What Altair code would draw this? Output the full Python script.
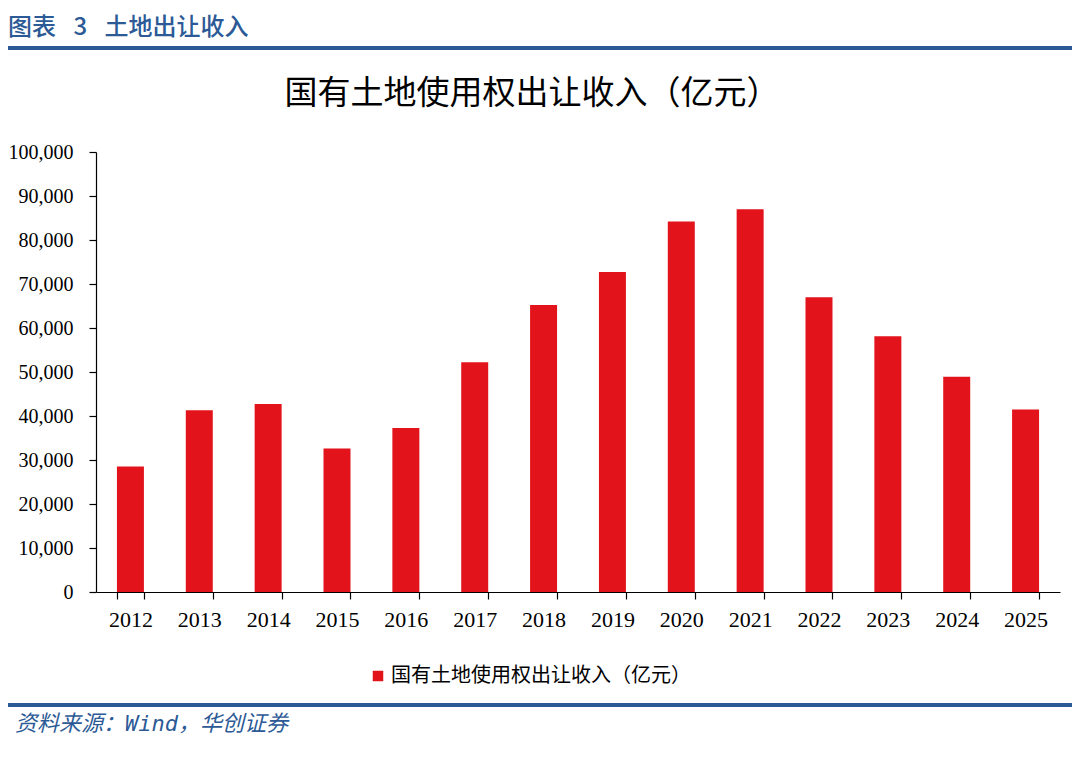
import altair as alt
import pandas as pd

# ---- data ----
years = ["2012", "2013", "2014", "2015", "2016", "2017", "2018",
         "2019", "2020", "2021", "2022", "2023", "2024", "2025"]
values = [28500, 41300, 42700, 32600, 37300, 52200, 65200,
          72700, 84200, 87000, 67000, 58100, 48900, 41500]
series_name = "国有土地使用权出让收入（亿元）"
y_ticks = [0, 10000, 20000, 30000, 40000, 50000, 60000, 70000, 80000, 90000, 100000]

header_text = "图表\u2002 3\u2002 土地出让收入"
title_text = "国有土地使用权出让收入（亿元）"
footer_text = "资料来源：Wind，华创证券"

# ---- style ----
RED = "#E3131C"
BLUE = "#2C5A96"
SERIF = "Liberation Serif"
CJK = "Noto Sans CJK SC"

W, H = 964, 440
PAD_L, PAD_T, PAD_R, PAD_B = 88, 144, 12, 157

df = pd.DataFrame({"year": years, "value": values,
                   "series": [series_name] * len(years)})

bars = alt.Chart(df).mark_bar().encode(
    x=alt.X("year:N", sort=None,
            scale=alt.Scale(paddingInner=0.608, paddingOuter=0.304),
            axis=alt.Axis(title=None, labelAngle=0, tickBand="extent",
                          labelFont=SERIF, labelFontSize=22, labelColor="#000",
                          labelPadding=10, tickSize=7, tickColor="#000",
                          domainColor="#000", tickWidth=1.2, domainWidth=1.2)),
    y=alt.Y("value:Q",
            scale=alt.Scale(domain=[0, 100000], nice=False),
            axis=alt.Axis(title=None, values=y_ticks, format=",.0f", grid=False,
                          labelFont=SERIF, labelFontSize=20, labelColor="#000",
                          labelPadding=16, tickSize=7, tickColor="#000",
                          domainColor="#000", tickWidth=1.2, domainWidth=1.2)),
    color=alt.Color("series:N",
                    scale=alt.Scale(range=[RED]),
                    legend=alt.Legend(title=None, orient="none",
                                      legendX=272, legendY=514,
                                      padding=0,
                                      symbolType="square", symbolSize=110,
                                      symbolStrokeWidth=0,
                                      labelFont=CJK, labelFontSize=20,
                                      labelLimit=0,
                                      labelColor="#000", labelOffset=3)),
)

one = pd.DataFrame({"k": [0]})

header = alt.Chart(pd.DataFrame({"t": [header_text]})).mark_text(
    align="left", baseline="middle", font=CJK, fontSize=24,
    fontWeight=500, color=BLUE
).encode(text="t:N", x=alt.value(-88), y=alt.value(-124))

header_line = alt.Chart(one).mark_rule(color=BLUE, strokeWidth=4).encode(
    x=alt.value(-PAD_L), x2=alt.value(W + PAD_R), y=alt.value(-104))

title = alt.Chart(pd.DataFrame({"t": [title_text]})).mark_text(
    align="center", baseline="middle", font=CJK, fontSize=33, color="#000"
).encode(text="t:N", x=alt.value(436), y=alt.value(-58))

footer_line = alt.Chart(one).mark_rule(color=BLUE, strokeWidth=4).encode(
    x=alt.value(-PAD_L), x2=alt.value(W + PAD_R), y=alt.value(553))

footer = alt.Chart(pd.DataFrame({"t": [footer_text]})).mark_text(
    align="left", baseline="middle", font="DejaVu Sans Mono, Noto Sans CJK SC",
    fontSize=22, fontStyle="italic", color=BLUE
).encode(text="t:N", x=alt.value(-81), y=alt.value(572))

chart = alt.layer(bars, header, header_line, title, footer_line, footer).properties(
    width=W, height=H,
    padding={"left": PAD_L, "top": PAD_T, "right": PAD_R, "bottom": PAD_B},
    autosize=alt.AutoSizeParams(type="none"),
).configure_view(stroke=None)

chart.save("out.html", embed_options={"renderer": "svg", "actions": False})
